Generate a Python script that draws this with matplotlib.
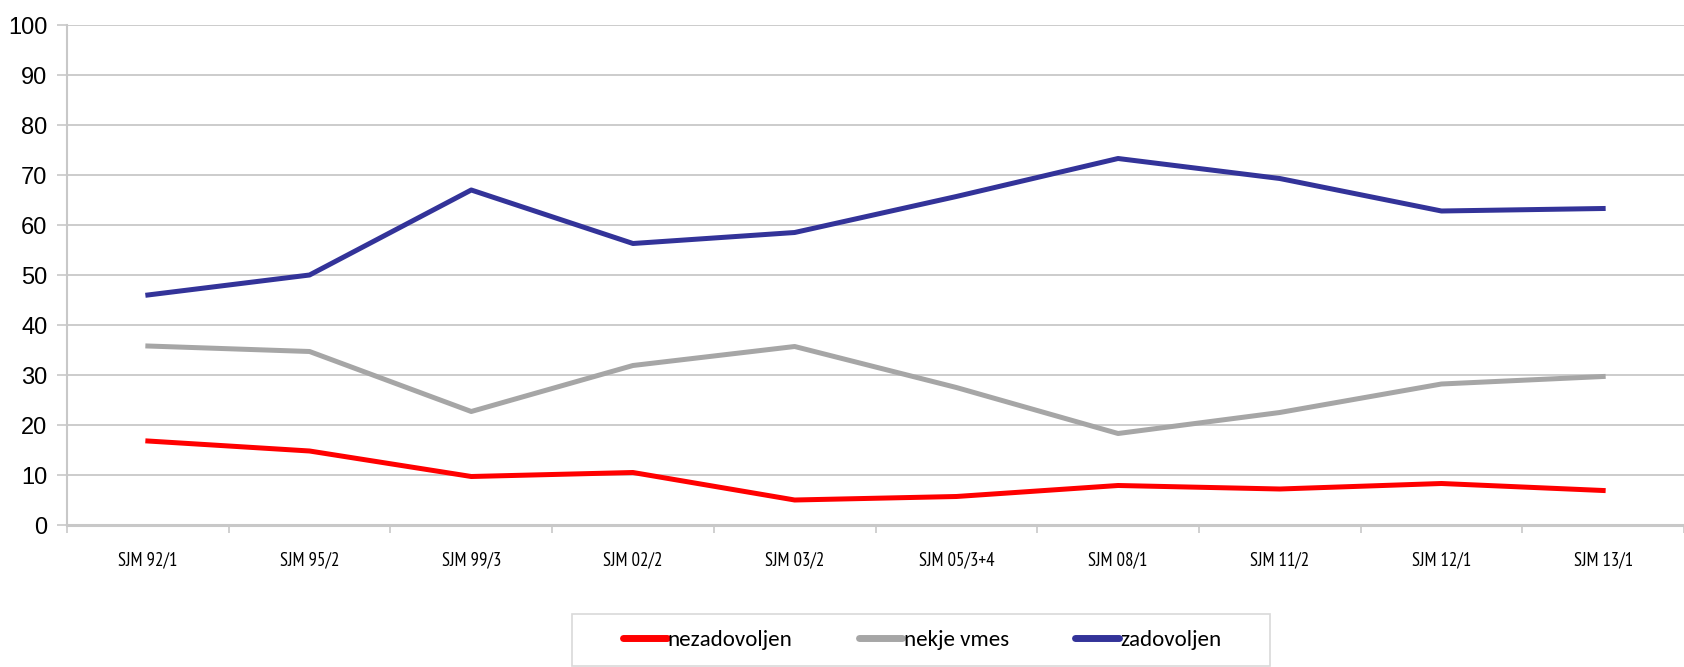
import matplotlib
matplotlib.use("Agg")
import matplotlib.pyplot as plt
import numpy as np
from matplotlib import font_manager
from matplotlib.patches import Rectangle

# survey waves and shares (%)
waves = ["SJM 92/1", "SJM 95/2", "SJM 99/3", "SJM 02/2", "SJM 03/2",
         "SJM 05/3+4", "SJM 08/1", "SJM 11/2", "SJM 12/1", "SJM 13/1"]
nezadovoljen = [16.8, 14.8, 9.7, 10.5, 5.0, 5.7, 7.9, 7.2, 8.3, 6.9]
nekje_vmes = [35.8, 34.7, 22.7, 31.9, 35.7, 27.5, 18.3, 22.5, 28.2, 29.7]
zadovoljen = [46.0, 50.0, 67.0, 56.3, 58.5, 65.7, 73.3, 69.3, 62.8, 63.3]
y_ticks = list(range(0, 101, 10))

installed = {f.name for f in font_manager.fontManager.ttflist}


def pick(cands):
    return next((f for f in cands if f in installed), "DejaVu Sans")


legend_font = pick(["Carlito", "Archivo Narrow", "PT Sans Narrow"])
tick_font = pick(["PT Sans Narrow", "Archivo Narrow", "Carlito"])

fig = plt.figure(figsize=(16.84, 6.67), dpi=100)
ax = fig.add_axes([67 / 1684, 142 / 667, 1617 / 1684, 500 / 667])

x = np.arange(len(waves))
grid_c = "#C8C8C8"
ax.plot(x, nezadovoljen, color="#FF0000", lw=3.6, label="nezadovoljen")
ax.plot(x, nekje_vmes, color="#A6A6A6", lw=3.6, label="nekje vmes")
ax.plot(x, zadovoljen, color="#333399", lw=3.6, label="zadovoljen")

ax.set_xlim(-0.5, len(waves) - 0.5)
ax.set_ylim(0, 100)
ax.set_yticks(y_ticks)
ax.set_yticklabels([str(v) for v in y_ticks], fontsize=17, family="Liberation Sans")
ax.yaxis.grid(True, color=grid_c, lw=1.3)
ax.set_axisbelow(True)

# boundary ticks between categories, labels at category centres
ax.set_xticks(np.arange(-0.5, len(waves), 1))
ax.set_xticklabels([])
ax.set_xticks(x, waves, minor=True)
ax.tick_params(axis="x", which="major", length=6, width=1.2, color=grid_c, direction="out")
ax.tick_params(axis="x", which="minor", length=0, pad=19, labelsize=13.5)
for lab in ax.get_xticklabels(minor=True):
    lab.set_family(tick_font)
ax.tick_params(axis="y", length=7, width=1.2, color=grid_c, pad=7)

for s in ["top", "right"]:
    ax.spines[s].set_visible(False)
ax.spines["left"].set_color(grid_c)
ax.spines["left"].set_linewidth(1.5)
ax.spines["bottom"].set_color(grid_c)
ax.spines["bottom"].set_linewidth(2.2)

# legend box drawn separately so it can be wider than its content
fig.patches.append(Rectangle((572 / 1684, 1 / 667), 698 / 1684, 52 / 667,
                             transform=fig.transFigure, fill=False,
                             edgecolor="#D9D9D9", lw=1.2))
leg = fig.legend(loc="center", bbox_to_anchor=(922 / 1684, 27 / 667),
                 ncol=3, frameon=False, handlelength=1.9, handletextpad=0.05,
                 columnspacing=2.9, prop={"family": legend_font, "size": 16.5},
                 borderaxespad=0, borderpad=0)
for h in leg.get_lines():
    h.set_linewidth(5)
    h.set_solid_capstyle("round")

fig.savefig("out.png", dpi=100)
